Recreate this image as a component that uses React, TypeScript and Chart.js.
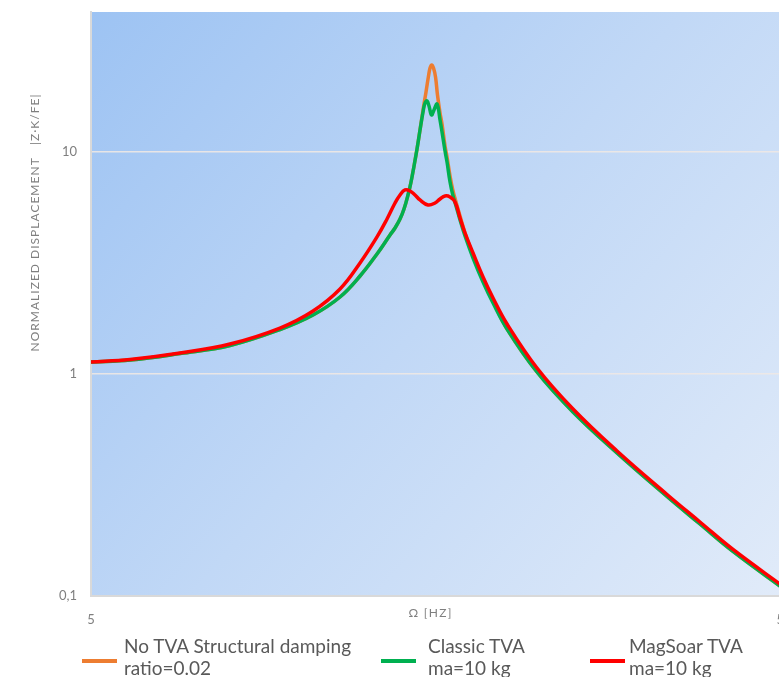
import React, { useEffect, useRef } from "react";
import { Chart, registerables } from "chart.js";

Chart.register(...registerables);

// ---- data (x: frequency in Hz, log axis; y: normalized displacement, log axis)
const seriesNames = ["No TVA Structural damping ratio=0.02", "Classic TVA ma=10 kg", "MagSoar TVA ma=10 kg"];

const yTickValues = [0.1, 1, 10];
const yTickLabels = ["0,1", "1", "10"];
const xTickValues = [5, 50];
const xTickLabels = ["5", "50"];

const freqNoTva = [
  5.0, 5.691, 6.722, 7.935, 9.369, 10.456, 11.437, 12.223, 12.933, 13.504, 13.73, 13.96, 14.146, 14.336, 14.48,
  14.625, 14.771, 14.919, 15.069, 15.219, 15.346, 15.424, 15.51, 15.603, 15.708, 15.811, 15.945, 16.051, 16.212,
  16.32, 16.484, 16.649, 16.815, 17.041, 17.326, 17.793, 18.394, 19.016, 19.921, 22.007, 24.805, 28.709, 33.9,
  37.82, 42.21, 50,
];
const dispNoTva = [
  1.132, 1.156, 1.237, 1.344, 1.586, 1.844, 2.223, 2.763, 3.472, 4.228, 4.547, 4.991, 5.535, 6.403, 7.326, 8.648,
  10.31, 12.56, 15.46, 18.63, 22.0, 23.89, 24.65, 23.89, 21.77, 18.06, 14.99, 13.37, 10.64, 9.494, 7.796, 6.674,
  5.955, 5.148, 4.317, 3.436, 2.651, 2.132, 1.595, 1.021, 0.6743, 0.4408, 0.2807, 0.211, 0.1587, 0.1075,
];

const freqClassic = [
  5.0, 5.691, 6.722, 7.935, 9.369, 10.456, 11.437, 12.223, 12.933, 13.504, 13.73, 13.96, 14.146, 14.336, 14.48,
  14.625, 14.771, 14.919, 15.069, 15.169, 15.271, 15.372, 15.5, 15.629, 15.787, 15.945, 16.051, 16.212, 16.32,
  16.484, 16.649, 16.815, 17.041, 17.326, 17.793, 18.394, 19.016, 19.921, 22.007, 24.805, 28.709, 33.9, 37.82,
  42.21, 50,
];
const dispClassic = [
  1.132, 1.156, 1.237, 1.344, 1.586, 1.844, 2.223, 2.763, 3.472, 4.228, 4.547, 4.991, 5.535, 6.403, 7.326, 8.648,
  10.31, 12.56, 15.14, 16.62, 16.97, 16.11, 14.68, 15.46, 16.45, 13.94, 12.31, 10.1, 9.015, 7.326, 6.337, 5.712,
  4.94, 4.184, 3.331, 2.597, 2.088, 1.595, 1.021, 0.6743, 0.4408, 0.2807, 0.211, 0.1587, 0.1075,
];

const freqMag = [
  5.0, 5.691, 6.722, 7.935, 9.369, 10.456, 11.437, 12.223, 12.933, 13.37, 13.73, 13.96, 14.194, 14.432, 14.673,
  14.919, 15.321, 15.682, 15.945, 16.212, 16.484, 16.76, 17.041, 17.326, 17.793, 18.394, 19.016, 19.921, 22.007,
  24.805, 28.709, 33.9, 37.82, 42.21, 50,
];
const dispMag = [
  1.132, 1.162, 1.243, 1.365, 1.611, 1.922, 2.415, 3.162, 4.143, 4.991, 5.893, 6.403, 6.744, 6.674, 6.403, 6.08,
  5.772, 5.893, 6.143, 6.337, 6.27, 5.955, 5.042, 4.317, 3.508, 2.735, 2.199, 1.68, 1.064, 0.6955, 0.4499, 0.2866,
  0.2154, 0.162, 0.1098,
];

const yTitle = "NORMALIZED DISPLACEMENT   |Z·K/FE|";
const xTitle = "Ω [HZ]";

const legendLines = [
  ["No TVA Structural damping", "ratio=0.02"],
  ["Classic TVA", "ma=10 kg"],
  ["MagSoar TVA", "ma=10 kg"],
];
const seriesColors = ["#ED7D31", "#00B050", "#FF0000"];

function drawSpaced(ctx: CanvasRenderingContext2D, text: string, cx: number, cy: number, target: number, rot: number, font: string) {
  ctx.save();
  ctx.font = font;
  ctx.fillStyle = "#7f7f7f";
  ctx.textAlign = "left";
  ctx.textBaseline = "middle";
  (ctx as any).letterSpacing = "0px";
  const w = ctx.measureText(text).width;
  const ls = Math.max(0, (target - w) / (text.length - 1));
  (ctx as any).letterSpacing = ls + "px";
  ctx.translate(cx, cy);
  ctx.rotate(rot);
  ctx.fillText(text, -target / 2, 0);
  ctx.restore();
}

const decorPlugin = {
  id: "decor",
  beforeDraw(chart: any) {
    const { ctx, chartArea: a } = chart;
    const g = ctx.createLinearGradient(a.left, a.top, a.right, a.bottom);
    g.addColorStop(0, "#9dc3f3");
    g.addColorStop(0.5, "#c1d8f6");
    g.addColorStop(1, "#e1ebf9");
    ctx.save();
    ctx.fillStyle = g;
    ctx.fillRect(a.left, a.top, a.right - a.left, a.bottom - a.top);
    ctx.restore();
  },
  afterDraw(chart: any) {
    const ctx = chart.ctx as CanvasRenderingContext2D;
    drawSpaced(ctx, yTitle, 35, 223, 257, -Math.PI / 2, "12px Lato");
    drawSpaced(ctx, xTitle, 430, 613, 43, 0, "12px Lato");
  },
};

function makeDataset(label: string, xs: number[], ys: number[], color: string) {
  return {
    label,
    data: xs.map((x, i) => ({ x, y: ys[i] })),
    borderColor: color,
    backgroundColor: color,
    borderWidth: 3.5,
    pointRadius: 0,
    tension: 0.4,
    fill: false,
  };
}

export default function App() {
  const ref = useRef<HTMLCanvasElement>(null);

  useEffect(() => {
    if (!ref.current) return;
    const chart = new Chart(ref.current, {
      type: "line",
      data: {
        datasets: [
          makeDataset(seriesNames[2], freqMag, dispMag, seriesColors[2]),
          makeDataset(seriesNames[1], freqClassic, dispClassic, seriesColors[1]),
          makeDataset(seriesNames[0], freqNoTva, dispNoTva, seriesColors[0]),
        ],
      },
      options: {
        responsive: false,
        animation: false,
        layout: { padding: { left: 0, top: 12, right: 16, bottom: 41 } },
        plugins: { legend: { display: false }, tooltip: { enabled: false } },
        scales: {
          x: {
            type: "logarithmic",
            min: 5,
            max: 50,
            afterBuildTicks: (s: any) => {
              s.ticks = xTickValues.map((v) => ({ value: v }));
            },
            afterFit: (s: any) => {
              s.height = 40;
              s.paddingLeft = 0;
              s.paddingRight = 0;
            },
            ticks: {
              callback: (v: any) => {
                const i = xTickValues.indexOf(Number(v));
                return i >= 0 ? xTickLabels[i] : "";
              },
              color: "#7f7f7f",
              font: { family: "Lato", size: 13 },
              padding: 16,
              maxRotation: 0,
              autoSkip: false,
            },
            grid: { display: true, color: "rgba(0,0,0,0)", drawTicks: false },
            border: { display: true, color: "#d9d9d9", width: 2 },
          },
          y: {
            type: "logarithmic",
            min: 0.1,
            max: 42.72,
            afterBuildTicks: (s: any) => {
              s.ticks = yTickValues.map((v) => ({ value: v }));
            },
            afterFit: (s: any) => {
              s.width = 91;
              s.paddingTop = 0;
              s.paddingBottom = 0;
            },
            ticks: {
              callback: (v: any) => {
                const i = yTickValues.indexOf(Number(v));
                return i >= 0 ? yTickLabels[i] : "";
              },
              color: "#7f7f7f",
              font: { family: "Lato", size: 13 },
              padding: 14,
              autoSkip: false,
            },
            grid: { color: "rgba(238,232,228,0.9)", lineWidth: 1.5, drawTicks: false },
            border: { display: true, color: "#d9d9d9", width: 2 },
          },
        },
      },
      plugins: [decorPlugin],
    });
    return () => chart.destroy();
  }, []);

  const markerLefts = [82, 381, 590];
  const textLefts = [124, 428, 629];

  return (
    <div
      style={{
        position: "absolute",
        left: 0,
        top: 0,
        width: 779,
        height: 677,
        overflow: "hidden",
        background: "#ffffff",
      }}
    >
      <canvas
        ref={ref}
        width={800}
        height={677}
        style={{ position: "absolute", left: 0, top: 0, width: 800, height: 677 }}
      />
      {legendLines.map((lines, i) => (
        <React.Fragment key={i}>
          <div
            style={{
              position: "absolute",
              left: markerLefts[i],
              top: 659,
              width: 35,
              height: 4,
              background: seriesColors[i],
            }}
          />
          <div
            style={{
              position: "absolute",
              left: textLefts[i],
              top: 635,
              fontFamily: "Lato",
              fontSize: 19,
              lineHeight: "22px",
              color: "#595959",
              whiteSpace: "nowrap",
            }}
          >
            <div>{lines[0]}</div>
            <div>{lines[1]}</div>
          </div>
        </React.Fragment>
      ))}
    </div>
  );
}
